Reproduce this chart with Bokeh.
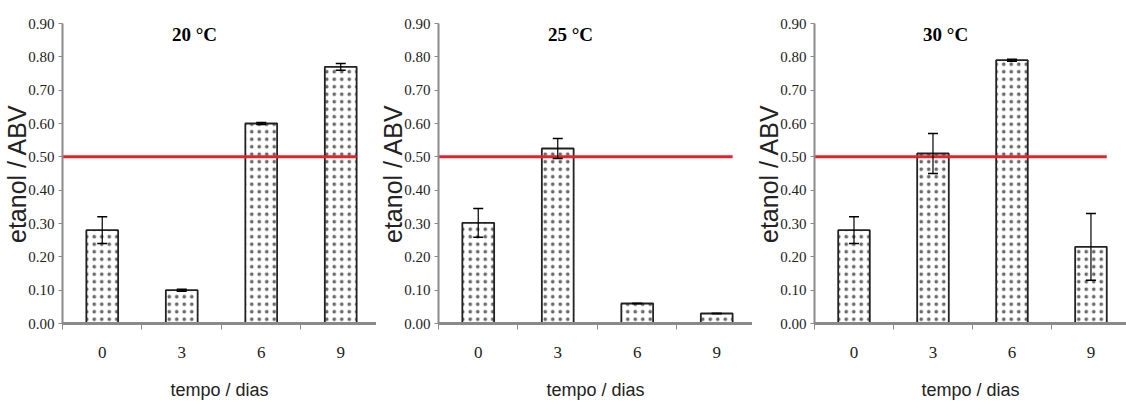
from bokeh.plotting import figure
from bokeh.layouts import row
from bokeh.models import FixedTicker, ColumnDataSource, Whisker
from bokeh.core.properties import value
from bokeh.embed import file_html
from bokeh.resources import INLINE

# ---- data ----
days = ["0", "3", "6", "9"]
titles = ["20 °C", "25 °C", "30 °C"]
ethanol_20 = [0.28, 0.10, 0.60, 0.77]
err_20 = [0.04, 0.003, 0.003, 0.01]
ethanol_25 = [0.302, 0.525, 0.06, 0.03]
err_25 = [0.043, 0.03, 0.0, 0.0]
ethanol_30 = [0.28, 0.51, 0.79, 0.23]
err_30 = [0.04, 0.06, 0.003, 0.10]
threshold = 0.50
y_ticks = [0.0, 0.1, 0.2, 0.3, 0.4, 0.5, 0.6, 0.7, 0.8, 0.9]

series = [(ethanol_20, err_20), (ethanol_25, err_25), (ethanol_30, err_30)]
widths = [376, 376, 374]
borders = [61, 61, 58]

AXIS_GRAY = "#8a8a8a"
SERIF = "Liberation Serif"

figs = []
for i, ((vals, errs), title) in enumerate(zip(series, titles)):
    xs = [k + 0.5 for k in range(len(days))]
    src = ColumnDataSource(dict(
        x=xs, top=vals,
        lower=[v - e for v, e in zip(vals, errs)],
        upper=[v + e for v, e in zip(vals, errs)],
    ))
    p = figure(width=widths[i], height=405, x_range=(0, 3.95), y_range=(0, 0.9),
               output_backend="svg", toolbar_location=None,
               min_border_left=borders[i], min_border_right=0,
               min_border_top=23, min_border_bottom=82)
    p.outline_line_color = None
    p.xgrid.visible = False
    p.ygrid.visible = False
    p.background_fill_color = "white"
    p.border_fill_color = "white"

    p.vbar(x="x", top="top", width=0.4, bottom=0, source=src,
           fill_color="white", line_color="#222222", line_width=1.8,
           hatch_pattern=".", hatch_color="#6a6a6a", hatch_scale=7.5, hatch_weight=0.6)

    w = Whisker(base="x", lower="lower", upper="upper", source=src,
                line_color="black", line_width=1.2, level="annotation")
    w.upper_head.size = 10
    w.lower_head.size = 10
    w.upper_head.line_color = "black"
    w.lower_head.line_color = "black"
    w.upper_head.line_width = 1.5
    w.lower_head.line_width = 1.5
    p.add_layout(w)

    # red threshold line up to right edge of last bar
    p.line(x=[0, xs[-1] + 0.2], y=[threshold, threshold], line_color="#e3232c", line_width=3)

    # title inside plot
    p.text(x=[1.66], y=[0.868], text=[title], text_font=value(SERIF),
           text_font_style="bold", text_font_size="19px", text_align="center",
           text_baseline="middle", text_color="black")

    # x axis
    xa = p.xaxis[0]
    xa.ticker = FixedTicker(ticks=xs, minor_ticks=[0, 1, 2, 3, 4])
    xa.major_label_overrides = {x: d for x, d in zip(xs, days)}
    xa.major_tick_out = 0
    xa.major_tick_in = 0
    xa.minor_tick_out = 6
    xa.minor_tick_in = 0
    xa.minor_tick_line_color = AXIS_GRAY
    xa.axis_line_color = AXIS_GRAY
    xa.axis_line_width = 3
    xa.major_label_standoff = 17
    xa.major_label_text_font = SERIF
    xa.major_label_text_font_size = "17px"
    xa.major_label_text_color = "#222222"
    xa.axis_label = "tempo / dias"
    xa.axis_label_text_font = "Liberation Sans"
    xa.axis_label_text_font_size = "18px"
    xa.axis_label_text_font_style = "normal"
    xa.axis_label_text_color = "#222222"
    xa.axis_label_standoff = 19

    # y axis
    ya = p.yaxis[0]
    ya.ticker = FixedTicker(ticks=y_ticks, minor_ticks=[])
    ya.major_label_overrides = {t: f"{t:.2f}" for t in y_ticks}
    ya.major_tick_out = 4
    ya.major_tick_in = 0
    ya.major_tick_line_color = AXIS_GRAY
    ya.axis_line_color = AXIS_GRAY
    ya.axis_line_width = 2
    ya.major_label_standoff = 4
    ya.major_label_text_font = SERIF
    ya.major_label_text_font_size = "15px"
    ya.major_label_text_color = "#222222"
    ya.axis_label = "etanol / ABV"
    ya.axis_label_text_font = "Liberation Sans"
    ya.axis_label_text_font_size = "25px"
    ya.axis_label_text_font_style = "normal"
    ya.axis_label_text_color = "#222222"
    ya.axis_label_standoff = -6

    figs.append(p)

layout = row(*figs, spacing=0)
open("out.html", "w").write(file_html(layout, INLINE))
